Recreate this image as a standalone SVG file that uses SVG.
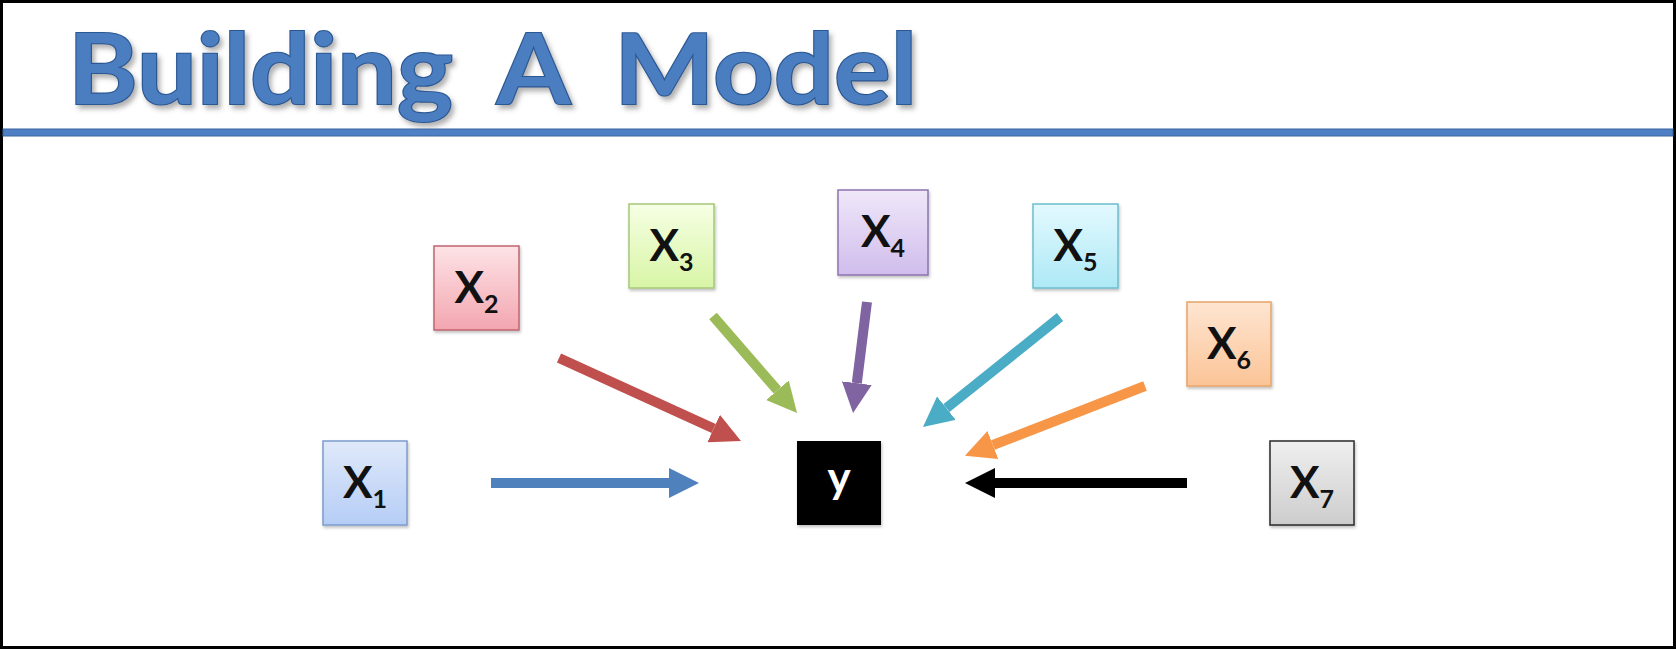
<svg xmlns="http://www.w3.org/2000/svg" width="1676" height="649" viewBox="0 0 1676 649">
  <style>
    .title { font-family: "Lato", "Liberation Sans", sans-serif; font-weight: 700; font-size: 98px; word-spacing: 20px; fill: #4C7EC0; stroke: #2B5893; stroke-width: 2.2; paint-order: stroke; }
    .box { stroke-width: 1.5; filter: url(#shadow); }
    .lbl { font-family: "Lato", "Liberation Sans", sans-serif; font-weight: bold; font-size: 44px; fill: #111; }
    .sub { font-size: 25px; }
    .yl { font-family: "Lato", "Liberation Sans", sans-serif; font-weight: bold; font-size: 44px; fill: #fff; }
    .shaft { stroke-width: 10; fill: none; stroke-linecap: butt; }
  </style>
  <defs>
    <filter id="shadow" x="-20%" y="-20%" width="140%" height="140%">
      <feDropShadow dx="1" dy="2" stdDeviation="1.5" flood-color="#000" flood-opacity="0.25"/>
    </filter>
    <filter id="tshadow" x="-5%" y="-20%" width="110%" height="150%">
      <feDropShadow dx="3" dy="4" stdDeviation="2.5" flood-color="#555" flood-opacity="0.45"/>
    </filter>
    <linearGradient id="gBlue" x1="0" y1="0" x2="0" y2="1"><stop offset="0" stop-color="#dfe9fa"/><stop offset="1" stop-color="#b5cdf6"/></linearGradient>
    <linearGradient id="gRed" x1="0" y1="0" x2="0" y2="1"><stop offset="0" stop-color="#fde3e6"/><stop offset="1" stop-color="#f3a6b0"/></linearGradient>
    <linearGradient id="gGreen" x1="0" y1="0" x2="0" y2="1"><stop offset="0" stop-color="#f6ffe3"/><stop offset="1" stop-color="#d8f5a6"/></linearGradient>
    <linearGradient id="gPurple" x1="0" y1="0" x2="0" y2="1"><stop offset="0" stop-color="#efe7f9"/><stop offset="1" stop-color="#d0bdec"/></linearGradient>
    <linearGradient id="gTeal" x1="0" y1="0" x2="0" y2="1"><stop offset="0" stop-color="#e3f9fe"/><stop offset="1" stop-color="#ade9f6"/></linearGradient>
    <linearGradient id="gOrange" x1="0" y1="0" x2="0" y2="1"><stop offset="0" stop-color="#fee5d1"/><stop offset="1" stop-color="#fbc497"/></linearGradient>
    <linearGradient id="gGray" x1="0" y1="0" x2="0" y2="1"><stop offset="0" stop-color="#efefef"/><stop offset="1" stop-color="#cdcdcd"/></linearGradient>
    <marker id="hBlue" markerUnits="userSpaceOnUse" viewBox="0 0 30 30" refX="0" refY="15" markerWidth="30" markerHeight="30" orient="auto"><path d="M0,0 L30,15 L0,30 z" fill="#4F81BD"/></marker>
    <marker id="hRed" markerUnits="userSpaceOnUse" viewBox="0 0 30 30" refX="0" refY="15" markerWidth="30" markerHeight="30" orient="auto"><path d="M0,0 L30,15 L0,30 z" fill="#C0504D"/></marker>
    <marker id="hGreen" markerUnits="userSpaceOnUse" viewBox="0 0 30 30" refX="0" refY="15" markerWidth="30" markerHeight="30" orient="auto"><path d="M0,0 L30,15 L0,30 z" fill="#9BBB59"/></marker>
    <marker id="hPurple" markerUnits="userSpaceOnUse" viewBox="0 0 30 30" refX="0" refY="15" markerWidth="30" markerHeight="30" orient="auto"><path d="M0,0 L30,15 L0,30 z" fill="#8064A2"/></marker>
    <marker id="hTeal" markerUnits="userSpaceOnUse" viewBox="0 0 30 30" refX="0" refY="15" markerWidth="30" markerHeight="30" orient="auto"><path d="M0,0 L30,15 L0,30 z" fill="#4BACC6"/></marker>
    <marker id="hOrange" markerUnits="userSpaceOnUse" viewBox="0 0 30 30" refX="0" refY="15" markerWidth="30" markerHeight="30" orient="auto"><path d="M0,0 L30,15 L0,30 z" fill="#F79646"/></marker>
    <marker id="hBlack" markerUnits="userSpaceOnUse" viewBox="0 0 30 30" refX="0" refY="15" markerWidth="30" markerHeight="30" orient="auto"><path d="M0,0 L30,15 L0,30 z" fill="#000"/></marker>
  </defs>

  <!-- slide background and frame -->
  <rect x="0" y="0" width="1676" height="649" fill="#000"/>
  <rect x="3" y="3" width="1670" height="643" fill="#fff"/>

  <!-- heading -->
  <g id="heading">
    <text class="title" x="68" y="104" textLength="849" lengthAdjust="spacingAndGlyphs" filter="url(#tshadow)">Building A Model</text>
    <rect x="3" y="129" width="1670" height="7" fill="#4F80C4" stroke="#3A64A0" stroke-width="1"/>
  </g>

  <!-- connectors -->
  <g id="connectors">
    <line class="shaft" x1="491" y1="483" x2="669" y2="483" stroke="#4F81BD" marker-end="url(#hBlue)"/>
    <line class="shaft" x1="559" y1="358" x2="713.7" y2="428.5" stroke="#C0504D" marker-end="url(#hRed)"/>
    <line class="shaft" x1="713" y1="316" x2="777.4" y2="390.3" stroke="#9BBB59" marker-end="url(#hGreen)"/>
    <line class="shaft" x1="867" y1="302" x2="856.8" y2="383.2" stroke="#8064A2" marker-end="url(#hPurple)"/>
    <line class="shaft" x1="1060" y1="317" x2="946.4" y2="408.2" stroke="#4BACC6" marker-end="url(#hTeal)"/>
    <line class="shaft" x1="1145" y1="386" x2="992.9" y2="445" stroke="#F79646" marker-end="url(#hOrange)"/>
    <line class="shaft" x1="1187" y1="483" x2="995" y2="483" stroke="#000" marker-end="url(#hBlack)"/>
  </g>

  <!-- input nodes -->
  <g id="x1">
    <rect class="box" x="323" y="441" width="84" height="84" fill="url(#gBlue)" stroke="#7c9ccd"/>
    <text class="lbl" x="365" y="498" text-anchor="middle">X<tspan class="sub" dy="10">1</tspan></text>
  </g>
  <g id="x2">
    <rect class="box" x="434" y="246" width="85" height="84" fill="url(#gRed)" stroke="#c0656f"/>
    <text class="lbl" x="476.5" y="303" text-anchor="middle">X<tspan class="sub" dy="10">2</tspan></text>
  </g>
  <g id="x3">
    <rect class="box" x="629" y="204" width="85" height="84" fill="url(#gGreen)" stroke="#a6c87a"/>
    <text class="lbl" x="671.5" y="261" text-anchor="middle">X<tspan class="sub" dy="10">3</tspan></text>
  </g>
  <g id="x4">
    <rect class="box" x="838" y="190" width="90" height="85" fill="url(#gPurple)" stroke="#8d74ae"/>
    <text class="lbl" x="883" y="247" text-anchor="middle">X<tspan class="sub" dy="10">4</tspan></text>
  </g>
  <g id="x5">
    <rect class="box" x="1033" y="204" width="85" height="84" fill="url(#gTeal)" stroke="#6ebdd0"/>
    <text class="lbl" x="1075.5" y="261" text-anchor="middle">X<tspan class="sub" dy="10">5</tspan></text>
  </g>
  <g id="x6">
    <rect class="box" x="1187" y="302" width="84" height="84" fill="url(#gOrange)" stroke="#e8a469"/>
    <text class="lbl" x="1229" y="359" text-anchor="middle">X<tspan class="sub" dy="10">6</tspan></text>
  </g>
  <g id="x7">
    <rect class="box" x="1270" y="441" width="84" height="84" fill="url(#gGray)" stroke="#2a2a2a"/>
    <text class="lbl" x="1312" y="498" text-anchor="middle">X<tspan class="sub" dy="10">7</tspan></text>
  </g>

  <!-- output node -->
  <g id="y">
    <rect class="box" x="797" y="441" width="84" height="84" fill="#000"/>
    <text class="yl" x="839" y="493" text-anchor="middle">y</text>
  </g>
</svg>
